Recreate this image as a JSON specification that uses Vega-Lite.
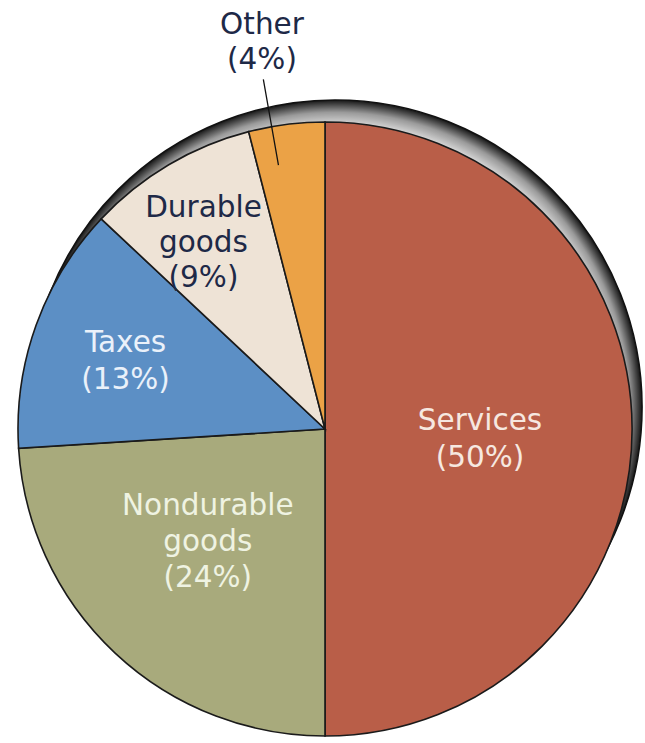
{
  "$schema": "https://vega.github.io/schema/vega-lite/v6.json",
  "width": 640,
  "height": 628,
  "autosize": {"type": "none"},
  "padding": {"left": 5, "top": 115, "right": 0, "bottom": 0},
  "background": "white",
  "config": {"view": {"stroke": null}},
  "data": {
    "values": [
      {"category": "Services", "label": "Services\n(50%)", "share": 50, "rank": 1},
      {"category": "Nondurable goods", "label": "Nondurable\ngoods\n(24%)", "share": 24, "rank": 2},
      {"category": "Taxes", "label": "Taxes\n(13%)", "share": 13, "rank": 3},
      {"category": "Durable goods", "label": "Durable\ngoods\n(9%)", "share": 9, "rank": 4},
      {"category": "Other", "label": "Other\n(4%)", "share": 4, "rank": 5}
    ]
  },
  "layer": [
    {
      "data": {"values": [{"part": "shadow"}]},
      "mark": {
        "type": "arc",
        "theta": 0,
        "theta2": 6.2832,
        "radius": 307,
        "xOffset": 10,
        "yOffset": -22,
        "fill": {
          "gradient": "radial",
          "x1": 0.5, "y1": 0.5, "r1": 0.455,
          "x2": 0.5, "y2": 0.5, "r2": 0.5,
          "stops": [
            {"offset": 0, "color": "#e8e8e8"},
            {"offset": 0.55, "color": "#9a9a9a"},
            {"offset": 1, "color": "#151515"}
          ]
        },
        "stroke": "#111111",
        "strokeWidth": 1.5
      },
      "encoding": {}
    },
    {
      "mark": {"type": "arc", "radius": 307, "stroke": "#1a1a1a", "strokeWidth": 1.6},
      "encoding": {
        "theta": {"field": "share", "type": "quantitative", "stack": true},
        "order": {"field": "rank", "type": "quantitative"},
        "color": {
          "field": "category",
          "type": "nominal",
          "scale": {
            "domain": ["Services", "Nondurable goods", "Taxes", "Durable goods", "Other"],
            "range": ["#b95e48", "#a8aa7c", "#5c8fc5", "#eee3d6", "#eba246"]
          },
          "legend": null
        }
      }
    },
    {
      "mark": {
        "type": "arc",
        "radius": 355,
        "radius2": 268,
        "padAngle": 0.3,
        "thetaOffset": -0.0489,
        "filled": false,
        "stroke": "#111111",
        "strokeWidth": 1.3
      },
      "encoding": {
        "theta": {"field": "share", "type": "quantitative", "stack": true},
        "order": {"field": "rank", "type": "quantitative"},
        "strokeOpacity": {"condition": {"test": "datum.category === 'Other'", "value": 1}, "value": 0}
      }
    },
    {
      "mark": {"type": "text", "radius": 155, "dy": -8, "font": "DejaVu Sans", "fontSize": 29.5, "lineBreak": "\n", "lineHeight": 37, "fill": "#f6e8e0", "align": "center", "baseline": "middle"},
      "encoding": {
        "theta": {"field": "share", "type": "quantitative", "stack": true},
        "order": {"field": "rank", "type": "quantitative"},
        "text": {"condition": {"test": "datum.category === 'Services'", "field": "label", "type": "nominal"}, "value": ""}
      }
    },
    {
      "mark": {"type": "text", "radius": 161, "dx": -7, "dy": -40, "font": "DejaVu Sans", "fontSize": 29.5, "lineBreak": "\n", "lineHeight": 36, "fill": "#eff3e2", "align": "center", "baseline": "middle"},
      "encoding": {
        "theta": {"field": "share", "type": "quantitative", "stack": true},
        "order": {"field": "rank", "type": "quantitative"},
        "text": {"condition": {"test": "datum.category === 'Nondurable goods'", "field": "label", "type": "nominal"}, "value": ""}
      }
    },
    {
      "mark": {"type": "text", "radius": 212, "dy": -14, "font": "DejaVu Sans", "fontSize": 29.5, "lineBreak": "\n", "lineHeight": 37, "fill": "#eaf1fa", "align": "center", "baseline": "middle"},
      "encoding": {
        "theta": {"field": "share", "type": "quantitative", "stack": true},
        "order": {"field": "rank", "type": "quantitative"},
        "text": {"condition": {"test": "datum.category === 'Taxes'", "field": "label", "type": "nominal"}, "value": ""}
      }
    },
    {
      "mark": {"type": "text", "radius": 223, "dx": -8, "dy": -29, "font": "DejaVu Sans", "fontSize": 29.5, "lineBreak": "\n", "lineHeight": 35, "fill": "#1e2947", "align": "center", "baseline": "middle"},
      "encoding": {
        "theta": {"field": "share", "type": "quantitative", "stack": true},
        "order": {"field": "rank", "type": "quantitative"},
        "text": {"condition": {"test": "datum.category === 'Durable goods'", "field": "label", "type": "nominal"}, "value": ""}
      }
    },
    {
      "mark": {"type": "text", "radius": 391, "dx": -14, "dy": -16, "font": "DejaVu Sans", "fontSize": 29.5, "lineBreak": "\n", "lineHeight": 35, "fill": "#1e2947", "align": "center", "baseline": "middle"},
      "encoding": {
        "theta": {"field": "share", "type": "quantitative", "stack": true},
        "order": {"field": "rank", "type": "quantitative"},
        "text": {"condition": {"test": "datum.category === 'Other'", "field": "label", "type": "nominal"}, "value": ""}
      }
    }
  ]
}
